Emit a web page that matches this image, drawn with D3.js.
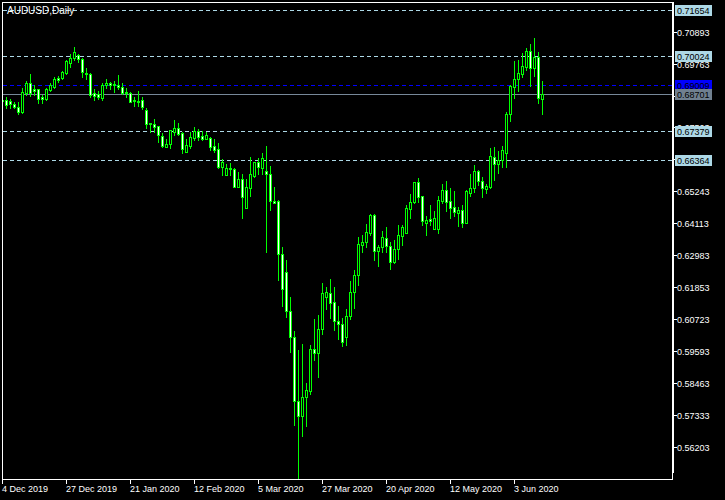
<!DOCTYPE html>
<html><head><meta charset="utf-8">
<script src="https://cdn.jsdelivr.net/npm/d3@7"></script>
<style>html,body{margin:0;padding:0;background:#000;overflow:hidden}</style>
</head><body>
<svg id="c" width="725" height="500"></svg>
<script>
const symbolTitle = "AUDUSD,Daily";

const opens = [
0.68475,0.68475,0.68440,0.68323,0.68227,0.68061,0.68712,0.69066,0.68864,0.68854,
0.68592,0.68510,0.68829,0.68946,0.69264,0.69264,0.69420,0.69774,0.69951,0.70068,
0.69926,0.69441,0.69395,0.68712,0.68677,0.68535,0.69006,0.69066,0.69006,0.69006,
0.68946,0.68769,0.68712,0.68464,0.68450,0.68475,0.68121,0.67650,0.67625,0.67555,
0.67201,0.66822,0.66907,0.67353,0.67473,0.67317,0.66645,0.66857,0.67119,0.67378,
0.67201,0.67094,0.67140,0.66857,0.66740,0.66114,0.65820,0.66057,0.66022,0.65406,
0.65668,0.64662,0.65349,0.65795,0.66270,0.66078,0.65962,0.65845,0.64910,0.64900,
0.63013,0.62397,0.61016,0.60096,0.57830,0.57289,0.57972,0.58184,0.59650,0.59529,
0.60358,0.61491,0.61632,0.61314,0.60662,0.60535,0.60075,0.60839,0.61668,0.62280,
0.63353,0.63459,0.63777,0.64404,0.63140,0.63282,0.63579,0.63317,0.62751,0.63190,
0.63671,0.63777,0.64616,0.64854,0.65562,0.65077,0.64110,0.64262,0.63908,0.63908,
0.64910,0.65289,0.64900,0.64677,0.64485,0.64581,0.64131,0.65172,0.65349,0.65962,
0.65618,0.65314,0.65406,0.66468,0.66199,0.66351,0.66588,0.67969,0.68946,0.69208,
0.69395,0.69654,0.70210,0.69597,0.70008,0.68510];

const highs = [
0.68510,0.68571,0.68521,0.68394,0.68394,0.68889,0.69148,0.69395,0.69006,0.68872,
0.68652,0.68910,0.69066,0.69279,0.69325,0.69512,0.69891,0.70103,0.70341,0.70103,
0.69951,0.69597,0.69420,0.68854,0.68804,0.69087,0.69218,0.69123,0.69158,0.69360,
0.69087,0.68889,0.68769,0.68571,0.68794,0.68571,0.68181,0.67671,0.67802,0.67572,
0.67296,0.67084,0.67424,0.67767,0.67671,0.67353,0.67084,0.67353,0.67530,0.67438,
0.67378,0.67353,0.67176,0.67084,0.66942,0.66386,0.66209,0.66234,0.66078,0.65937,
0.65845,0.65668,0.66447,0.66280,0.66411,0.66588,0.66847,0.66139,0.65385,0.64935,
0.63261,0.62811,0.61491,0.60298,0.59625,0.59837,0.58446,0.59802,0.60722,0.60864,
0.61986,0.61845,0.62128,0.61845,0.61183,0.60747,0.61076,0.62068,0.62457,0.63615,
0.63696,0.64085,0.64439,0.64439,0.63342,0.63838,0.63969,0.63459,0.63519,0.64050,
0.64050,0.64758,0.65147,0.65583,0.65703,0.65094,0.64369,0.64758,0.64546,0.65077,
0.65501,0.65608,0.65370,0.65254,0.64698,0.64758,0.65289,0.65855,0.66174,0.65997,
0.65739,0.65501,0.66786,0.66822,0.66670,0.66857,0.68061,0.69006,0.69856,0.69891,
0.70128,0.70305,0.70457,0.70659,0.70164,0.69148];

const lows = [
0.68422,0.68181,0.68202,0.68181,0.67979,0.68025,0.68652,0.68627,0.68652,0.68379,
0.68379,0.68475,0.68794,0.68910,0.69123,0.69218,0.69395,0.69654,0.69891,0.69810,
0.69300,0.69218,0.68592,0.68475,0.68500,0.68475,0.68910,0.68854,0.68769,0.68864,
0.68687,0.68571,0.68404,0.68263,0.68263,0.68156,0.67494,0.67353,0.67353,0.66999,
0.66822,0.66811,0.66786,0.67236,0.67236,0.66609,0.66634,0.66786,0.67059,0.67059,
0.67059,0.67084,0.66705,0.66645,0.66078,0.65820,0.65809,0.65820,0.65385,0.65395,
0.64308,0.64652,0.65087,0.65760,0.65845,0.65845,0.63105,0.64581,0.64818,0.62103,
0.61193,0.60783,0.59565,0.56970,0.55060,0.56581,0.56935,0.58067,0.59271,0.58680,
0.60191,0.61076,0.60747,0.60333,0.60014,0.59767,0.59802,0.60722,0.61122,0.61926,
0.63105,0.63282,0.63696,0.62811,0.62609,0.63105,0.63105,0.62492,0.62694,0.62836,
0.63342,0.63756,0.64287,0.64818,0.64875,0.64050,0.63696,0.64050,0.63897,0.63777,
0.64818,0.64546,0.64308,0.64369,0.64025,0.63990,0.64110,0.65077,0.65229,0.65466,
0.65052,0.65193,0.65370,0.65643,0.65880,0.66114,0.66114,0.67742,0.68556,0.68794,
0.69300,0.69537,0.68981,0.69325,0.68379,0.67979];

const closes = [
0.68457,0.68298,0.68323,0.68227,0.68061,0.68748,0.69066,0.68733,0.68804,0.68500,
0.68500,0.68864,0.69006,0.69218,0.69183,0.69466,0.69856,0.69972,0.70164,0.69926,
0.69456,0.69385,0.68652,0.68627,0.68592,0.69006,0.69066,0.69006,0.69041,0.68935,
0.68712,0.68712,0.68415,0.68440,0.68415,0.68238,0.67615,0.67625,0.67530,0.67225,
0.66857,0.66917,0.67413,0.67473,0.67271,0.66740,0.66882,0.67155,0.67378,0.67176,
0.67094,0.67236,0.66822,0.66705,0.66114,0.66291,0.66057,0.66022,0.65406,0.65668,
0.65052,0.65385,0.65845,0.66270,0.66114,0.66432,0.65845,0.64900,0.64839,0.63013,
0.61774,0.61016,0.60096,0.57830,0.57289,0.57972,0.58209,0.59660,0.59529,0.60358,
0.61632,0.61668,0.61299,0.60662,0.60535,0.59919,0.60839,0.61668,0.62280,0.63367,
0.63448,0.63792,0.64404,0.63140,0.63282,0.63615,0.63317,0.62751,0.63190,0.63696,
0.63969,0.64641,0.64875,0.65562,0.65052,0.64202,0.64227,0.64202,0.64287,0.64935,
0.65289,0.64875,0.64662,0.64521,0.64581,0.64131,0.65254,0.65349,0.65962,0.65608,
0.65349,0.65431,0.66493,0.66199,0.66351,0.66705,0.67979,0.68971,0.69208,0.69420,
0.69679,0.70210,0.69597,0.70008,0.68535,0.68701];

const dateLabels = ["4 Dec 2019","27 Dec 2019","21 Jan 2020","12 Feb 2020","5 Mar 2020","27 Mar 2020","20 Apr 2020","12 May 2020","3 Jun 2020"];
const dateLabelIndex = [0,16,32,48,64,80,96,112,128];

const priceTicks = [0.56203,0.57333,0.58463,0.59593,0.60723,0.61853,0.62983,0.64113,0.65243,0.66373,0.67503,0.68633,0.69763,0.70893];

const dashedLevels = [0.71654,0.70024,0.67379,0.66364];
const blueLevels = [0.69009];
const bidLevels = [0.68701];

const FONT = "'Liberation Sans', Arial, sans-serif";
const GREEN = "#00ff00";
const LIGHTBLUE = "#add8e6";
const BLUE = "#0000ff";
const SLATE = "#778899";

const svg = d3.select("#c");
svg.append("rect").attr("width",725).attr("height",500).attr("fill","#000");

const x = d3.scaleLinear().domain([0, 167.5]).range([2.3, 672.3]);
const y = d3.scaleLinear().domain([0.55058, 0.72015]).range([479, 0]);

svg.append("defs").append("clipPath").attr("id","plot")
  .append("rect").attr("x",3).attr("y",3).attr("width",669).attr("height",476);

const plot = svg.append("g").attr("clip-path","url(#plot)");

function hline(v, color, dash){
  const yy = Math.round(y(v)) + 0.5;
  plot.append("line").attr("x1",3).attr("x2",672).attr("y1",yy).attr("y2",yy)
    .attr("stroke",color).attr("stroke-width",1)
    .attr("stroke-dasharray", dash || null)
    .attr("shape-rendering","crispEdges");
}
dashedLevels.forEach(v => hline(v, LIGHTBLUE, "4,3"));
blueLevels.forEach(v => hline(v, BLUE, "4,3"));
bidLevels.forEach(v => hline(v, SLATE, null));

const bars = d3.range(opens.length).map(i => ({i, o:opens[i], h:highs[i], l:lows[i], c:closes[i]}));
const cg = plot.append("g").attr("shape-rendering","crispEdges");
bars.forEach(d => {
  const cx = Math.round(x(d.i));
  const yh = Math.round(y(d.h)), yl = Math.round(y(d.l));
  cg.append("rect").attr("x",cx).attr("y",yh).attr("width",1).attr("height",Math.max(1,yl-yh+1)).attr("fill",GREEN);
  const top = Math.round(y(Math.max(d.o,d.c))), bot = Math.round(y(Math.min(d.o,d.c)));
  const hh = Math.max(1, bot-top+1);
  cg.append("rect").attr("x",cx-1).attr("y",top).attr("width",3).attr("height",hh).attr("fill",GREEN);
  if (hh > 2) {
    cg.append("rect").attr("x",cx).attr("y",top+1).attr("width",1).attr("height",hh-2)
      .attr("fill", d.c >= d.o ? "#000" : "#fff");
  }
});

const fr = svg.append("g").attr("fill","#fff").attr("shape-rendering","crispEdges");
fr.append("rect").attr("x",2).attr("y",2).attr("width",1).attr("height",482);
fr.append("rect").attr("x",2).attr("y",2).attr("width",671).attr("height",1);
fr.append("rect").attr("x",672).attr("y",2).attr("width",2).attr("height",471);
fr.append("rect").attr("x",672).attr("y",472).attr("width",1).attr("height",8);
fr.append("rect").attr("x",2).attr("y",479).attr("width",671).attr("height",1);

svg.append("text").attr("x",7).attr("y",13.5).attr("fill","#fff")
  .attr("font-family",FONT).attr("font-size","10px").text(symbolTitle);

dateLabelIndex.forEach((idx,k) => {
  const tx = Math.round(x(idx));
  fr.append("rect").attr("x",tx).attr("y",479).attr("width",1).attr("height",5);
  svg.append("text").attr("x",tx).attr("y",492).attr("fill","#fff")
    .attr("font-family",FONT).attr("font-size","9px").text(dateLabels[k]);
});

// price axis; labels fully hidden behind a level box are not drawn
const allLevels = dashedLevels.concat(blueLevels, bidLevels);
priceTicks.forEach(v => {
  const ty = Math.round(y(v));
  fr.append("rect").attr("x",674).attr("y",ty).attr("width",3).attr("height",1);
  const covered = allLevels.some(l => Math.abs(y(l) - y(v)) < 2.5);
  if (!covered) {
    svg.append("text").attr("x",677).attr("y",ty+3.5).attr("fill","#fff")
      .attr("font-family",FONT).attr("font-size","9px").text(d3.format(".5f")(v));
  }
});

function levelBox(v, bg, fg){
  const ty = Math.round(y(v));
  svg.append("rect").attr("x",675).attr("y",ty-5).attr("width",37).attr("height",11)
    .attr("fill",bg).attr("shape-rendering","crispEdges");
  svg.append("text").attr("x",677).attr("y",ty+3.5).attr("fill",fg)
    .attr("font-family",FONT).attr("font-size","9px").text(d3.format(".5f")(v));
}
dashedLevels.forEach(v => levelBox(v, LIGHTBLUE, "#000"));
blueLevels.forEach(v => levelBox(v, BLUE, "#000"));
bidLevels.forEach(v => levelBox(v, "#708090", "#000"));
</script>
</body></html>
